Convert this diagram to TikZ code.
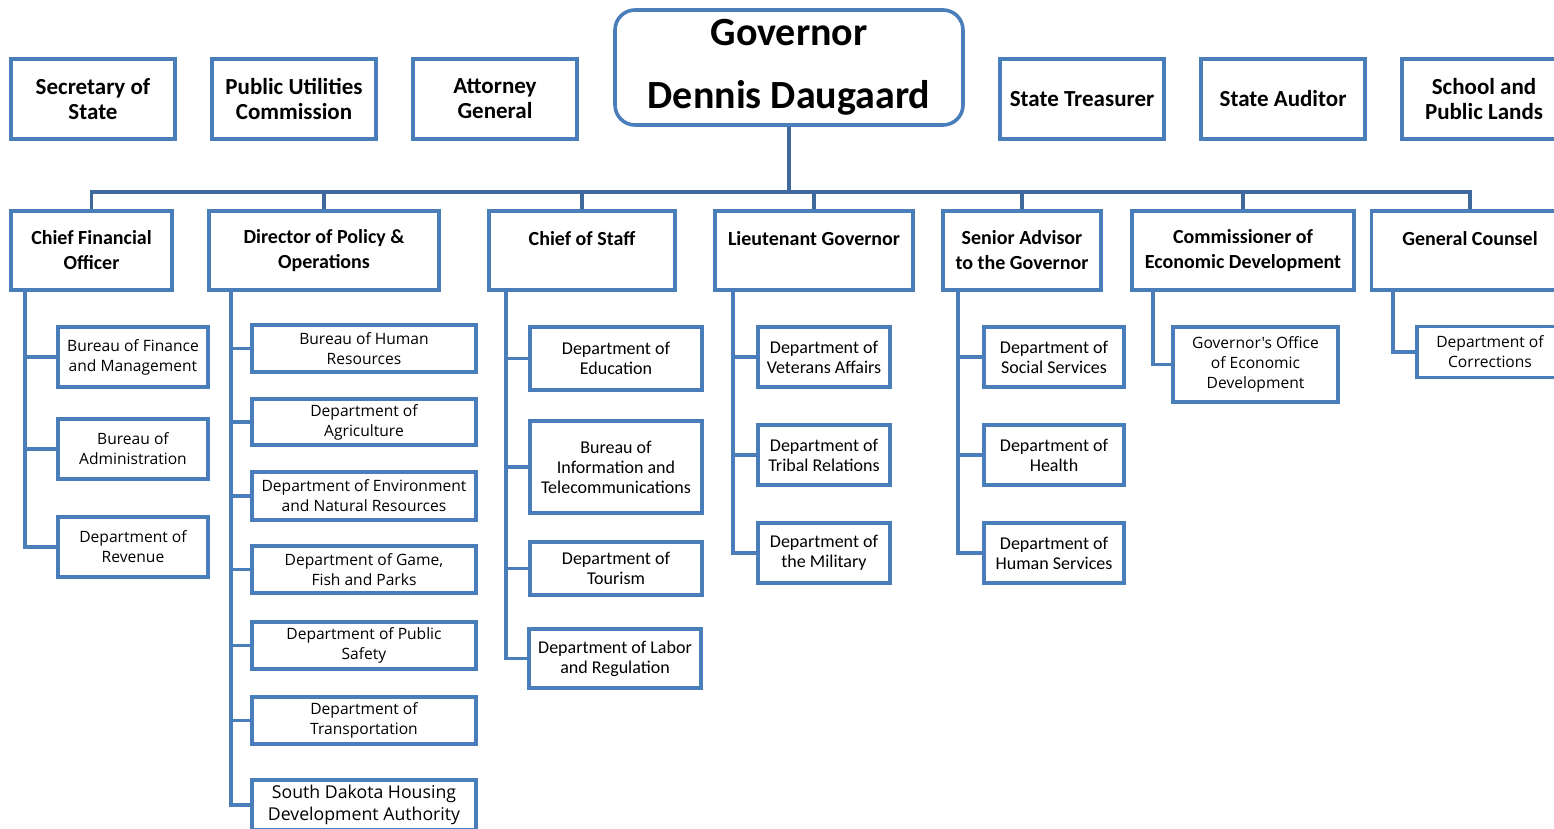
\documentclass[tikz,border=0pt]{standalone}
\usepackage{fontspec}
\setmainfont{Carlito}
\newfontfamily\opensans{Open Sans}
\usepackage{xcolor}
\usepackage{tikz}
\definecolor{boxblue}{RGB}{74,126,187}
\definecolor{busblue}{RGB}{63,104,156}

\begin{document}
\begin{tikzpicture}[x=1pt,y=-1pt,
	unit/.style={draw=boxblue, line width=3.6pt, fill=white, align=center, inner sep=0pt},
	topunit/.style={unit, minimum width=164pt, minimum height=80pt, font=\bfseries\fontsize{23}{25}\selectfont},
	headunit/.style={unit, minimum height=79pt, font=\bfseries\fontsize{20}{25}\selectfont},
	subunit/.style={unit, font=\fontsize{18}{20}\selectfont},
	wideunit/.style={unit, font=\opensans\fontsize{15.6}{20}\selectfont},
	bus/.style={draw=busblue, line width=3.6pt},
	link/.style={draw=boxblue, line width=3.6pt}]
			\useasboundingbox (0,0) rectangle (1554,829);
			% Hàng trên cùng
			\node[topunit] (sos) at (93,99) {Secretary of\\State};
			\node[topunit] (puc) at (294,99) {Public Utilities\\Commission};
			\node[topunit] (ag) at (495,99) {Attorney\\General};
			\node[unit, rounded corners=20pt, minimum width=348pt, minimum height=115pt,
				font=\bfseries\fontsize{40}{63}\selectfont] (gov) at (789,67.5) {Governor\\Dennis Daugaard};
			\node[topunit] (treas) at (1082,99) {State Treasurer};
			\node[topunit] (aud) at (1283,99) {State Auditor};
			\node[topunit] (spl) at (1484,99) {School and\\Public Lands};
			% Hàng thứ hai
			\node[headunit, minimum width=161pt] (cfo) at (91.5,250.5) {Chief Financial\\Officer};
			\node[headunit, minimum width=230pt] (dpo) at (324,250.5) {Director of Policy \&\\Operations};
			\node[headunit, minimum width=186pt] (cos) at (582,250.5) {Chief of Staff\\~};
			\node[headunit, minimum width=198pt] (ltg) at (814,250.5) {Lieutenant Governor\\~};
			\node[headunit, minimum width=158pt] (sag) at (1022,250.5) {Senior Advisor\\to the Governor};
			\node[headunit, minimum width=222pt] (ced) at (1243,250.5) {Commissioner of\\Economic Development};
			\node[headunit, minimum width=197pt] (gc) at (1470,250.5) {General Counsel\\~};
			% Đường nối từ Governor
			\coordinate (bus) at (789,192);
			\draw[bus] (gov.south) -- (bus);
			\foreach \h in {cfo,dpo,cos,ltg,sag,ced,gc}
				\draw[bus] (bus) -| (\h.north);
			% Các ô cấp dưới
			\node[wideunit, minimum width=150pt, minimum height=60pt] (bfm) at (133,357) {Bureau of Finance\\and Management};
			\node[wideunit, minimum width=150pt, minimum height=60pt] (badm) at (133,449) {Bureau of\\Administration};
			\node[wideunit, minimum width=150pt, minimum height=60pt] (rev) at (133,547) {Department of\\Revenue};
			\node[wideunit, minimum width=224pt, minimum height=47pt] (bhr) at (364,348.5) {Bureau of Human\\Resources};
			\node[wideunit, minimum width=224pt, minimum height=46pt] (agr) at (364,422) {Department of\\Agriculture};
			\node[wideunit, minimum width=224pt, minimum height=48pt] (env) at (364,496) {Department of Environment\\and Natural Resources};
			\node[wideunit, minimum width=224pt, minimum height=47pt] (gfp) at (364,569.5) {Department of Game,\\Fish and Parks};
			\node[wideunit, minimum width=224pt, minimum height=47pt] (ps) at (364,645.5) {Department of Public\\Safety};
			\node[wideunit, minimum width=224pt, minimum height=47pt] (tra) at (364,720.5) {Department of\\Transportation};
			\node[unit, font=\opensans\fontsize{17.7}{22}\selectfont, minimum width=224pt, minimum height=50pt] (sdh) at (364,805) {South Dakota Housing\\Development Authority};
			\node[subunit, minimum width=172pt, minimum height=63pt] (edu) at (616,358.5) {Department of\\Education};
			\node[subunit, minimum width=172pt, minimum height=92pt] (bit) at (616,467) {Bureau of\\Information and\\Telecommunications};
			\node[subunit, minimum width=172pt, minimum height=53pt] (tou) at (616,568.5) {Department of\\Tourism};
			\node[subunit, minimum width=172pt, minimum height=59pt] (lab) at (615,658.5) {Department of Labor\\and Regulation};
			\node[subunit, minimum width=132pt, minimum height=60pt] (vet) at (824,357) {Department of\\Veterans Affairs};
			\node[subunit, minimum width=132pt, minimum height=60pt] (tri) at (824,455) {Department of\\Tribal Relations};
			\node[subunit, minimum width=132pt, minimum height=60pt] (mil) at (824,553) {Department of\\the Military};
			\node[subunit, minimum width=140pt, minimum height=60pt] (soc) at (1054,357) {Department of\\Social Services};
			\node[subunit, minimum width=140pt, minimum height=60pt] (hea) at (1054,455) {Department of\\Health};
			\node[subunit, minimum width=140pt, minimum height=60pt] (hum) at (1054,553) {Department of\\Human Services};
			\node[wideunit, minimum width=165pt, minimum height=75pt] (goed) at (1255.5,364.5) {Governor's Office\\of Economic\\Development};
			\node[wideunit, minimum width=146pt, minimum height=51pt] (cor) at (1490,352) {Department of\\Corrections};
			% Đường nối cấp dưới
			\foreach \c in {bfm,badm,rev}
				\draw[link] ([xshift=16pt]cfo.south west) |- (\c.west);
			\foreach \c in {bhr,agr,env,gfp,ps,tra,sdh}
				\draw[link] ([xshift=24pt]dpo.south west) |- (\c.west);
			\foreach \c in {edu,bit,tou,lab}
				\draw[link] ([xshift=19pt]cos.south west) |- (\c.west);
			\foreach \c in {vet,tri,mil}
				\draw[link] ([xshift=20pt]ltg.south west) |- (\c.west);
			\foreach \c in {soc,hea,hum}
				\draw[link] ([xshift=17pt]sag.south west) |- (\c.west);
			\draw[link] ([xshift=23pt]ced.south west) |- (goed.west);
			\draw[link] ([xshift=23pt]gc.south west) |- (cor.west);
		\end{tikzpicture}
\end{document}
